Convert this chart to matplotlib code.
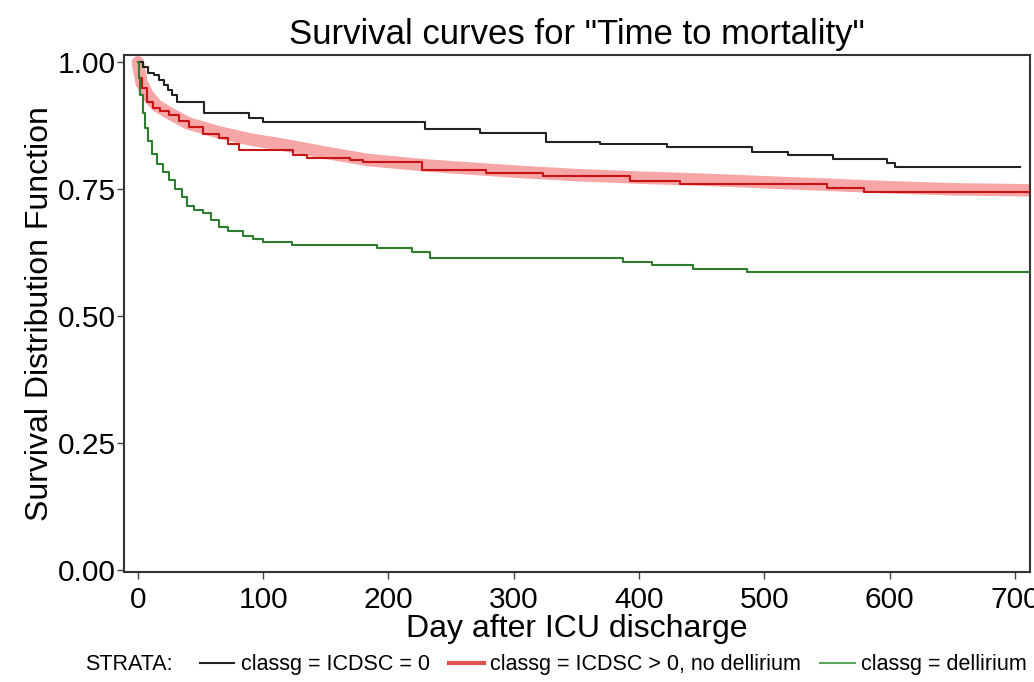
import matplotlib
matplotlib.use('Agg')
import matplotlib.pyplot as plt
from matplotlib.lines import Line2D

plt.rcParams['font.family'] = ['Liberation Sans', 'DejaVu Sans']

# Kaplan-Meier step curves (day, survival)
t_icdsc0 = [0, 4, 8, 13, 17, 21, 24, 27, 31, 53, 89, 100, 229, 273, 326, 369, 422, 490, 519, 555, 598, 604, 704]
s_icdsc0 = [1.0, 0.99, 0.98, 0.975, 0.965, 0.955, 0.945, 0.935, 0.921, 0.90, 0.89, 0.882, 0.868, 0.860, 0.843,
            0.839, 0.833, 0.823, 0.817, 0.809, 0.801, 0.793, 0.793]

t_nodel = [0, 1, 3, 7, 12, 18, 25, 33, 41, 52, 65, 72, 81, 124, 135, 169, 180, 227, 278, 323, 393, 433, 550, 580, 712]
s_nodel = [1.0, 0.97, 0.95, 0.921, 0.911, 0.905, 0.896, 0.885, 0.872, 0.858, 0.852, 0.840, 0.827, 0.818, 0.811,
           0.807, 0.803, 0.789, 0.782, 0.776, 0.766, 0.760, 0.752, 0.744, 0.744]

t_del = [0, 1, 2, 4, 6, 8, 11, 15, 20, 25, 30, 35, 39, 45, 52, 58, 65, 72, 84, 92, 100, 123, 191, 219, 233, 387,
         410, 443, 486, 712]
s_del = [1.0, 0.97, 0.935, 0.90, 0.87, 0.845, 0.82, 0.80, 0.785, 0.768, 0.75, 0.735, 0.718, 0.71, 0.703, 0.69,
         0.675, 0.667, 0.659, 0.652, 0.646, 0.640, 0.634, 0.626, 0.614, 0.606, 0.600, 0.594, 0.587, 0.587]

# smooth fitted curve shown as the pink band
t_fit = [0, 3, 8, 15, 25, 40, 65, 90, 120, 150, 183, 230, 300, 350, 400, 450, 500, 550, 600, 650, 712]
s_fit = [1.0, 0.96, 0.935, 0.915, 0.90, 0.88, 0.862, 0.848, 0.836, 0.822, 0.808, 0.797, 0.785, 0.778, 0.773,
         0.769, 0.764, 0.759, 0.754, 0.750, 0.748]

labels = ['classg = ICDSC = 0', 'classg = ICDSC > 0, no dellirium', 'classg = dellirium']

fig = plt.figure(figsize=(10.34, 6.82), dpi=100)
ax = fig.add_axes([0.12, 0.161, 0.876, 0.758])

ax.plot(t_fit, s_fit, color='#f06b6b', alpha=0.6, lw=9, solid_capstyle='round', zorder=1)
ax.step(t_icdsc0, s_icdsc0, where='post', color='#222222', lw=1.5, zorder=3)
ax.step(t_nodel, s_nodel, where='post', color='#c81414', lw=1.5, zorder=3)
ax.step(t_del, s_del, where='post', color='#2e7d2e', lw=1.5, zorder=3)

ax.set_xlim(-11, 712)
ax.set_ylim(-0.004, 1.014)
ax.set_xticks([0, 100, 200, 300, 400, 500, 600, 700])
ax.set_yticks([0, 0.25, 0.5, 0.75, 1.0])
ax.set_yticklabels(['0.00', '0.25', '0.50', '0.75', '1.00'])
ax.tick_params(labelsize=21.5, length=5, width=1, color='#444444', pad=1)
ax.tick_params(axis='x', pad=5)
for sp in ax.spines.values():
    sp.set_linewidth(1.5)
    sp.set_color('#333333')

ax.set_xlabel('Day after ICU discharge', fontsize=23, labelpad=0)
ax.set_ylabel('Survival Distribution Function', fontsize=23, labelpad=2)
ax.set_title('Survival curves for "Time to mortality"', fontsize=25, pad=8)

handles = [Line2D([], [], color='#222222', lw=1.5),
           Line2D([], [], color='#e05050', lw=3),
           Line2D([], [], color='#5aa55a', lw=1.5)]
fig.text(0.082, 0.025, 'STRATA:', fontsize=15.5, va='center')
fig.legend(handles, labels, loc='center left', bbox_to_anchor=(0.183, 0.025), ncol=3, frameon=False,
           fontsize=15.5, handlelength=1.6, handletextpad=0.3, columnspacing=0.9, borderpad=0)

fig.savefig('out.png', dpi=100)
